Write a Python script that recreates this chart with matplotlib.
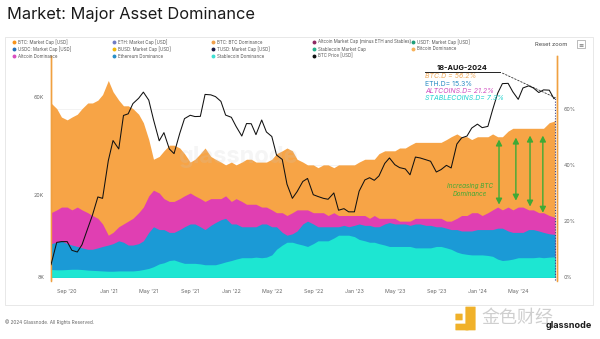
import pandas as pd
import matplotlib
matplotlib.use("Agg")
from matplotlib import pyplot as plt
import matplotlib.dates as mdates
from matplotlib.lines import Line2D
from matplotlib.patches import Rectangle, FancyBboxPatch
from matplotlib.ticker import FixedLocator, FixedFormatter

plt.rcParams["font.family"] = ["Inter", "DejaVu Sans"]

# semi-monthly samples, Jul 2020 -> 18 Aug 2024
dates = list(pd.date_range("2020-07-15", "2024-08-15", freq="SMS")) + [pd.Timestamp("2024-08-18")]

btc_price = [
    9.2,
    11.8, 11.9, 11.9, 10.8, 10.6, 11.5, 13.8, 16.0, 19.6, 19.3,
    29.4, 36.8, 33.5, 48.7, 49.6, 55.6, 59.0, 63.2, 57.8, 46.5, 36.7, 40.2,
    33.5, 31.8, 39.9, 47.0, 48.8, 48.1, 48.2, 61.6, 61.3, 60.1, 57.0, 48.9,
    47.7, 43.1, 38.7, 44.5, 44.4, 39.3, 46.3, 40.5, 38.5, 31.3, 29.8, 22.6,
    19.3, 20.8, 23.3, 24.1, 20.1, 19.7, 19.3, 19.1, 20.5, 16.9, 17.2, 16.6,
    16.6, 20.9, 23.7, 24.3, 23.6, 24.8, 28.5, 30.3, 28.1, 27.2, 26.8, 25.1,
    30.6, 30.3, 29.7, 29.2, 25.9, 26.6, 27.9, 27.1, 35.4, 37.9, 38.7, 42.3,
    44.2, 42.5, 43.1, 51.9, 62.4, 69.5, 69.7, 63.4, 58.3, 66.2, 67.8, 66.2,
    62.9, 64.8, 64.6, 58.7, 59.5,
]
btc_price = [v * 1000 for v in btc_price]

btc_dom = [
    62,
    60, 57, 56, 57, 58, 60, 62, 62, 63, 65,
    70, 66, 63, 61, 61, 60, 58, 55, 49, 42, 43, 45,
    47, 47, 46, 44, 41, 42, 44, 46, 43, 42, 41, 40,
    41, 40, 41, 42, 42, 41, 41, 41, 42, 44, 45, 46,
    45, 42, 41, 40, 40, 39, 40, 40, 39, 40, 40, 40,
    40, 41, 42, 42, 42, 44, 45, 45, 45, 46, 46, 47,
    48, 48, 48, 48, 48, 48, 49, 50, 51, 50, 50, 49,
    50, 50, 50, 51, 50, 50, 52, 53, 53, 53, 53, 53,
    53, 53, 55, 55.5, 56.2,
]
alt_dom = [
    23,
    24, 25, 25, 24, 25, 24, 23, 22, 21, 19,
    15, 16, 18, 19, 20, 21, 23, 25, 29, 31, 30, 28,
    27, 27, 28, 29, 30, 29, 28, 27, 28, 28, 28, 29,
    27, 28, 27, 26, 26, 26, 25, 25, 24, 23, 23, 22,
    23, 24, 24, 24, 23, 23, 23, 22, 23, 22, 22, 22,
    22, 22, 22, 21, 22, 21, 21, 21, 21, 20, 20, 20,
    21, 21, 21, 21, 21, 21, 20, 20, 21, 22, 22, 23,
    23, 22, 23, 24, 25, 24, 25, 24, 25, 25, 24, 24,
    23, 23, 22, 21.5, 21.2,
]
eth_dom = [
    12,
    12.5, 13, 12, 11.5, 11, 10.5, 10, 10, 10.5, 11,
    11.5, 12, 13, 12.5, 11.5, 11.5, 12, 13, 16, 18, 17, 17,
    16, 16, 17, 18, 19, 19, 18, 17, 18.5, 19.5, 20.5, 21,
    19, 19, 18, 18, 18, 18, 19, 19, 18, 18, 16, 15,
    15.5, 16.5, 19, 20, 19, 18, 18, 18, 18, 18, 18.5, 18,
    18.5, 19, 18.5, 18.5, 18, 18, 19, 19.5, 19, 19, 19, 18.5,
    19, 19, 18.5, 18.5, 18, 18, 17.5, 17, 17, 16.5, 16.5, 16.5,
    17, 17, 17, 17, 17.5, 17.5, 16.5, 16, 16, 16, 17, 17,
    16.5, 16, 15.5, 15.3, 15.3,
]
stable_dom = [
    2.8,
    2.7, 2.7, 2.8, 2.9, 2.9, 2.8, 2.6, 2.5, 2.4, 2.3,
    2.2, 2.2, 2.3, 2.3, 2.3, 2.3, 2.5, 2.8, 3.2, 3.8, 4.8, 5.2,
    6.0, 6.2, 5.5, 5.0, 5.0, 5.0, 4.8, 4.5, 4.5, 4.5, 5.0, 5.5,
    6.0, 6.5, 7.0, 7.0, 7.0, 7.2, 7.0, 7.2, 8.0, 10.0, 11.5, 12.5,
    12.5, 12.0, 11.5, 11.0, 12.0, 13.0, 13.0, 13.0, 14.0, 15.0, 15.0, 15.0,
    14.5, 13.5, 13.0, 12.5, 12.5, 12.0, 11.5, 11.0, 11.0, 11.0, 11.0, 11.0,
    10.5, 10.5, 10.5, 10.5, 11.0, 11.0, 10.5, 10.0, 9.0, 8.5, 8.2, 8.0,
    8.0, 8.0, 7.8, 7.5, 6.5, 6.0, 6.2, 6.5, 7.0, 7.0, 7.0, 7.0,
    7.2, 7.0, 7.2, 7.3, 7.3,
]

tick_dates = pd.date_range("2020-09-01", "2024-05-01", freq="4MS")
price_ticks = [8000, 20000, 60000]
price_labels = ["8K", "20K", "60K"]
dom_ticks = [0, 20, 40, 60]
dom_labels = ["0%", "20%", "40%", "60%"]

legend_rows = [
    [("BTC: Market Cap [USD]", "#f7931a"), ("ETH: Market Cap [USD]", "#6f7cc4"),
     ("BTC: BTC Dominance", "#f0a04b"), ("Altcoin Market Cap (minus ETH and Stables)", "#8e2a63"),
     ("USDT: Market Cap [USD]", "#1f9e7a")],
    [("USDC: Market Cap [USD]", "#2770b8"), ("BUSD: Market Cap [USD]", "#f0b90b"),
     ("TUSD: Market Cap [USD]", "#1b1b45"), ("Stablecoin Market Cap", "#27b08c"),
     ("Bitcoin Dominance", "#f7b25c")],
    [("Altcoin Dominance", "#d94fc0"), ("Ethereum Dominance", "#2a8fc8"),
     ("Stablecoin Dominance", "#3fe0d4"), ("BTC Price [USD]", "#111111")],
]

W, H = 600, 339
fig = plt.figure(figsize=(6, 3.39), dpi=100, facecolor="white")


def fx(px):
    return px / W


def fy(py):
    return 1 - py / H


# card
fig.add_artist(Rectangle((fx(5), fy(305)), fx(588), (300 - 32) / H, transform=fig.transFigure,
                         facecolor="white", edgecolor="#e4e4e4", lw=0.6, zorder=0))

fig.text(fx(7), fy(14.5), "Market: Major Asset Dominance", fontsize=11.8, color="#1a1a1a",
         va="center", ha="left")

# legend
col_x = [14, 114, 213, 314, 413]
row_y = [42, 49, 56]
for r, row in enumerate(legend_rows):
    for c, (label, color) in enumerate(row):
        fig.add_artist(Line2D([fx(col_x[c])], [fy(row_y[r])], marker="o", ms=1.8,
                              color=color, transform=fig.transFigure))
        fig.text(fx(col_x[c] + 4), fy(row_y[r]), label, fontsize=3.2, color="#555555",
                 va="center", ha="left")

fig.text(fx(551), fy(44), "Reset zoom", fontsize=4.2, color="#444444", ha="center", va="center")
fig.text(fx(581), fy(44), "≡", fontsize=4.5, color="#666666", ha="center", va="center",
         bbox=dict(boxstyle="square,pad=0.15", fc="white", ec="#888888", lw=0.4))

# main axes
ax = fig.add_axes([fx(51), fy(280.5), fx(506), (280.5 - 56) / H])
ax.set_facecolor("white")
ax2 = ax.twinx()

ax.fill_between(dates, btc_dom, 0, color="#f7a446", lw=0, zorder=2)
ax.fill_between(dates, alt_dom, 0, color="#e03fb2", lw=0, zorder=3)
ax.fill_between(dates, eth_dom, 0, color="#1b9ad6", lw=0, zorder=4)
ax.fill_between(dates, stable_dom, 0, color="#1de6d2", lw=0, zorder=5)

ax.set_ylim(-1.1, 78.7)
ax.set_xlim(pd.Timestamp("2020-07-15"), pd.Timestamp("2024-08-24"))
ax.yaxis.tick_right()
ax.yaxis.set_major_locator(FixedLocator(dom_ticks))
ax.yaxis.set_major_formatter(FixedFormatter(dom_labels))
ax.grid(axis="y", color="#eeeeee", lw=0.5, zorder=0)
ax.set_axisbelow(True)

ax2.plot(dates, btc_price, color="#111111", lw=0.75, zorder=5)
ax2.set_yscale("log")
ax2.set_ylim(7710, 94600)
ax2.yaxis.tick_left()
ax2.yaxis.set_major_locator(FixedLocator(price_ticks))
ax2.yaxis.set_major_formatter(FixedFormatter(price_labels))
ax2.yaxis.set_minor_locator(FixedLocator([]))

ax.xaxis.set_major_locator(FixedLocator(mdates.date2num(tick_dates)))
ax.xaxis.set_major_formatter(mdates.DateFormatter("%b '%y"))

for a in (ax, ax2):
    a.tick_params(length=0, labelsize=3.8, labelcolor="#666666", pad=5)
    for side in ("top", "bottom"):
        a.spines[side].set_visible(False)
    a.spines["left"].set_color("#f0a040")
    a.spines["right"].set_color("#f0a040")
    a.spines["left"].set_linewidth(1.0)
    a.spines["right"].set_linewidth(1.0)
ax.tick_params(axis="x", pad=6)

# faint watermark
ax.text(0.37, 0.55, "glassnode", transform=ax.transAxes, fontsize=17, color="#c8c8c8",
        alpha=0.18, ha="center", va="center", fontweight="bold", zorder=6)

# latest-day marker
last_date, last_price = dates[-1], btc_price[-1]
ax2.vlines(last_date, 7710, last_price, colors="#34408a", linestyles=(0, (1, 1.5)), lw=0.8, zorder=6)
ax2.annotate("", xy=(last_date, last_price), xytext=(fx(500), fy(72)),
             textcoords="figure fraction",
             arrowprops=dict(arrowstyle="-", ls=(0, (2, 2)), color="#333333", lw=0.6))
fig.add_artist(Line2D([fx(425), fx(500)], [fy(72), fy(72)], color="#222222", lw=0.7,
                      transform=fig.transFigure))
fig.text(fx(437), fy(67.5), "18-AUG-2024", fontsize=5.3, fontweight="bold", color="#111111",
         va="center", ha="left")
stats = [
    (f"BTC.D = {btc_dom[-1]}%", "#efa95a", "italic", 76.5),
    (f"ETH.D= {eth_dom[-1]}%", "#2a8cc4", "normal", 84),
    (f"ALTCOINS.D= {alt_dom[-1]}%", "#d04ec0", "italic", 91),
    (f"STABLECOINS.D= {stable_dom[-1]}%", "#22d3cf", "italic", 98),
]
for text, color, style, py in stats:
    fig.text(fx(425), fy(py), text, fontsize=5.0, color=color, style=style,
             va="center", ha="left")

# rising BTC dominance arrows
green = "#3faa35"
arrow_spans = [("2024-03-05", 50.0, 24.9), ("2024-04-24", 50.7, 26.3),
               ("2024-06-05", 51.4, 24.2), ("2024-07-13", 51.4, 22.0)]
for d, top, bottom in arrow_spans:
    ax.annotate("", xy=(pd.Timestamp(d), top), xytext=(pd.Timestamp(d), bottom),
                arrowprops=dict(arrowstyle="<|-|>,head_length=0.35,head_width=0.18",
                                color=green, lw=1.0), zorder=7)
fig.text(fx(470), fy(190), "Increasing BTC\nDominance", fontsize=4.6, color=green,
         style="italic", ha="center", va="center", linespacing=1.3)

# footer
fig.text(fx(5), fy(322), "© 2024 Glassnode. All Rights Reserved.", fontsize=3.4,
         color="#666666", va="center", ha="left")

logo = "#f0b12a"
fig.add_artist(FancyBboxPatch((fx(466), fy(330)), fx(9), (330 - 307) / H,
                              boxstyle="round,pad=0.001", transform=fig.transFigure,
                              fc=logo, ec="none"))
fig.add_artist(FancyBboxPatch((fx(456), fy(330)), fx(12), (330 - 324) / H,
                              boxstyle="round,pad=0.001", transform=fig.transFigure,
                              fc=logo, ec="none"))
fig.add_artist(FancyBboxPatch((fx(456), fy(320)), fx(6), (320 - 314) / H,
                              boxstyle="round,pad=0.001", transform=fig.transFigure,
                              fc=logo, ec="none"))
fig.text(fx(481), fy(318), "金色财经", fontsize=13, color="#cfcfcf",
         family=["Noto Sans CJK SC", "DejaVu Sans"], va="center", ha="left")
fig.text(fx(592), fy(326), "glassnode", fontsize=6.5, color="#1a1a1a", fontweight="bold",
         va="center", ha="right")

fig.savefig("out.png", dpi=100, facecolor="white")
